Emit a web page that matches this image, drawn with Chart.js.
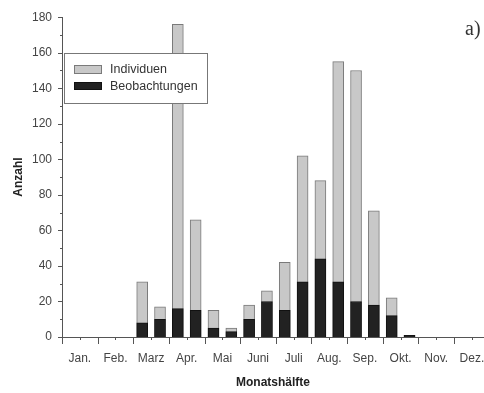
<!DOCTYPE html>
<html>
<head>
<meta charset="utf-8">
<script src="https://cdn.jsdelivr.net/npm/chart.js@4/dist/chart.umd.min.js"></script>
<style>
  html, body { margin: 0; padding: 0; background: #fff; }
  #wrap { width: 484px; height: 393px; position: relative; }
</style>
</head>
<body>
<div id="wrap"><canvas id="c" width="484" height="393"></canvas></div>
<script>
// Month labels (one per month, placed between its two halves)
const months = ['Jan.', 'Feb.', 'Marz', 'Apr.', 'Mai', 'Juni', 'Juli', 'Aug.', 'Sep.', 'Okt.', 'Nov.', 'Dez.'];
// Half-month categories (index 0 = Jan first half ... 23 = Dez second half)
const halfMonths = [
  'Jan 1', 'Jan 2', 'Feb 1', 'Feb 2', 'Mar 1', 'Mar 2', 'Apr 1', 'Apr 2',
  'Mai 1', 'Mai 2', 'Jun 1', 'Jun 2', 'Jul 1', 'Jul 2', 'Aug 1', 'Aug 2',
  'Sep 1', 'Sep 2', 'Okt 1', 'Okt 2', 'Nov 1', 'Nov 2', 'Dez 1', 'Dez 2'
];
const individuen = [0, 0, 0, 0, 31, 17, 176, 66, 15, 5, 18, 26, 42, 102, 88, 155, 150, 71, 22, 1, 0, 0, 0, 0];
const beobachtungen = [0, 0, 0, 0, 8, 10, 16, 15, 5, 3, 10, 20, 15, 31, 44, 31, 20, 18, 12, 1, 0, 0, 0, 0];
const yTicks = [0, 20, 40, 60, 80, 100, 120, 140, 160, 180];

const toPoints = arr => arr.map((v, i) => ({ x: i + 0.5, y: v }));

const FONT = "'Liberation Sans', Arial, sans-serif";

const decor = {
  id: 'decor',
  beforeDraw(chart) {
    const ctx = chart.ctx;
    ctx.save();
    ctx.fillStyle = '#fff';
    ctx.fillRect(0, 0, chart.width, chart.height);
    ctx.restore();
  },
  afterDatasetsDraw(chart) {
    const ctx = chart.ctx;
    const xs = chart.scales.x, ys = chart.scales.y;
    const ca = chart.chartArea;
    ctx.save();
    ctx.strokeStyle = '#555';
    ctx.lineWidth = 1;
    // y ticks (major every 20, minor every 10)
    for (let v = 0; v <= 180; v += 10) {
      const py = Math.round(ys.getPixelForValue(v)) + 0.5;
      const len = (v % 20 === 0) ? 4 : 2;
      ctx.beginPath();
      ctx.moveTo(ca.left, py);
      ctx.lineTo(ca.left - len, py);
      ctx.stroke();
    }
    // x ticks (major at month boundaries, minor at mid-month)
    for (let i = 0; i <= 24; i++) {
      const px = Math.round(xs.getPixelForValue(i)) + 0.5;
      if (px > chart.width) break;
      const len = (i % 2 === 0) ? 7 : 3;
      ctx.beginPath();
      ctx.moveTo(px, ca.bottom);
      ctx.lineTo(px, ca.bottom + len);
      ctx.stroke();
    }
    // legend box
    const order = [1, 0];
    ctx.fillStyle = '#fff';
    ctx.strokeStyle = '#777';
    ctx.fillRect(64.5, 53.5, 143, 50);
    ctx.strokeRect(64.5, 53.5, 143, 50);
    const rows = [{ y: 65, h: 9 }, { y: 82, h: 8 }];
    order.forEach((di, k) => {
      const ds = chart.data.datasets[di];
      const r = rows[k];
      ctx.fillStyle = ds.backgroundColor;
      ctx.fillRect(74, r.y, 28, r.h);
      ctx.strokeStyle = ds.borderColor;
      ctx.strokeRect(74.5, r.y + 0.5, 27, r.h - 1);
      ctx.fillStyle = '#333';
      ctx.font = '12.5px ' + FONT;
      ctx.textBaseline = 'middle';
      ctx.textAlign = 'left';
      ctx.fillText(ds.label, 110, r.y + r.h / 2 + 0.5);
    });
    // panel label
    ctx.fillStyle = '#333';
    ctx.font = "20px 'Liberation Serif', 'Times New Roman', serif";
    ctx.textBaseline = 'alphabetic';
    ctx.fillText('a)', 465, 35);
    ctx.restore();
  }
};

new Chart(document.getElementById('c'), {
  type: 'bar',
  data: {
    datasets: [
      {
        label: 'Beobachtungen',
        data: toPoints(beobachtungen),
        backgroundColor: '#222222',
        borderColor: '#111111',
        borderWidth: 1,
        grouped: false,
        barThickness: 11,
        order: 0
      },
      {
        label: 'Individuen',
        data: toPoints(individuen),
        backgroundColor: '#c8c8c8',
        borderColor: '#7a7a7a',
        borderWidth: 1,
        grouped: false,
        barThickness: 11,
        order: 1
      }
    ]
  },
  options: {
    responsive: false,
    animation: false,
    layout: { padding: { top: 17, right: 0, bottom: 0, left: 0 } },
    plugins: { legend: { display: false }, tooltip: { enabled: false } },
    scales: {
      x: {
        type: 'linear',
        min: 0,
        max: 23.68,
        offset: false,
        grid: { display: false, drawTicks: false },
        border: { display: true, color: '#555', width: 1 },
        afterBuildTicks: s => { s.ticks = months.map((m, i) => ({ value: 2 * i + 1 })); },
        ticks: {
          autoSkip: false,
          maxRotation: 0,
          padding: 14,
          color: '#444',
          font: { family: FONT, size: 12 },
          callback: v => months[(v - 1) / 2]
        },
        title: {
          display: true,
          text: 'Monatshälfte',
          color: '#222',
          font: { family: FONT, size: 12, weight: 'bold' },
          padding: { top: 3, bottom: 3 }
        },
        afterFit: s => { s.height = 56; s.paddingRight = 0; s.paddingLeft = 0; }
      },
      y: {
        min: 0,
        max: 180,
        grid: { display: false, drawTicks: false },
        border: { display: true, color: '#555', width: 1 },
        afterBuildTicks: s => { s.ticks = yTicks.map(v => ({ value: v })); },
        ticks: {
          padding: 10,
          color: '#444',
          font: { family: FONT, size: 12 }
        },
        title: {
          display: true,
          text: 'Anzahl',
          color: '#222',
          font: { family: FONT, size: 12, weight: 'bold' },
          padding: { top: 11, bottom: 11 }
        },
        afterFit: s => { s.width = 62; }
      }
    }
  },
  plugins: [decor]
});
</script>
</body>
</html>
